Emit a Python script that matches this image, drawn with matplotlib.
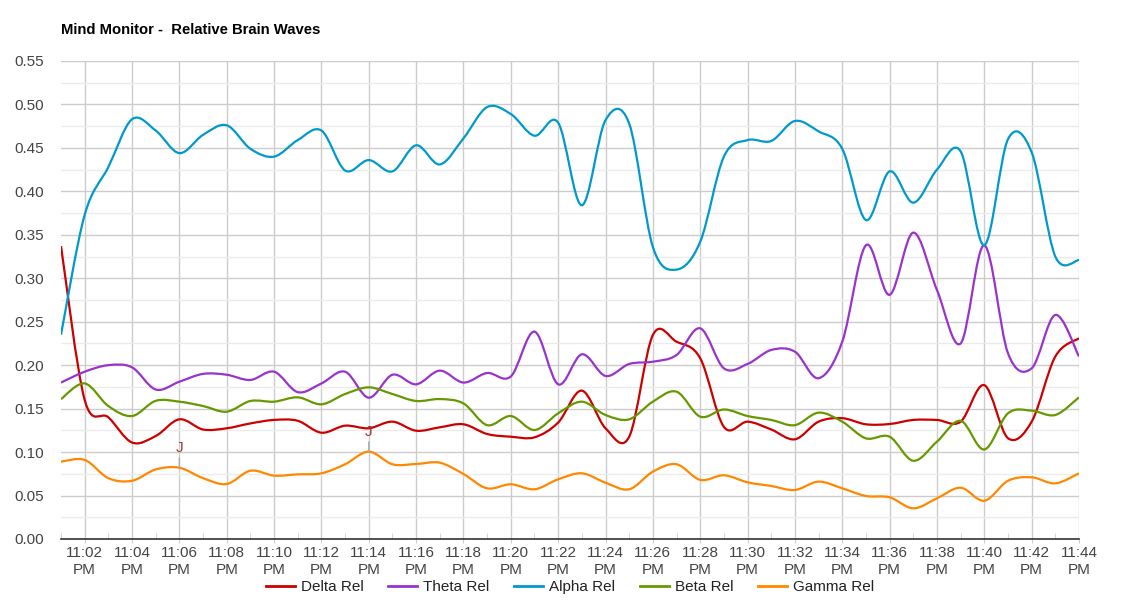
import numpy as np
import matplotlib
matplotlib.use("Agg")
import matplotlib.pyplot as plt
from matplotlib.path import Path
from matplotlib.patches import PathPatch
from matplotlib.lines import Line2D

plt.rcParams['font.family'] = ['Liberation Sans', 'DejaVu Sans']

# minutes after 11:00 PM, one sample per minute
minutes = list(range(1, 45))

delta = [0.337, 0.16, 0.14, 0.111, 0.1185, 0.1377, 0.126, 0.1274, 0.133, 0.137,
         0.136, 0.1223, 0.1304, 0.1274, 0.135, 0.1246, 0.1285, 0.132, 0.1208, 0.1177,
         0.117, 0.134, 0.1707, 0.1274, 0.1177, 0.2347, 0.227, 0.208, 0.129, 0.135,
         0.126, 0.1147, 0.135, 0.139, 0.132, 0.1323, 0.137, 0.137, 0.135, 0.177,
         0.116, 0.135, 0.21, 0.231]
theta = [0.18, 0.1925, 0.20, 0.1975, 0.172, 0.181, 0.19, 0.189, 0.183, 0.1925,
         0.169, 0.179, 0.1925, 0.1626, 0.189, 0.178, 0.1937, 0.18, 0.191, 0.187,
         0.2386, 0.178, 0.2125, 0.1876, 0.2014, 0.204, 0.2117, 0.2424, 0.1964, 0.2014,
         0.2175, 0.2155, 0.185, 0.227, 0.338, 0.281, 0.3525, 0.2865, 0.225, 0.338,
         0.2137, 0.1964, 0.2578, 0.21]
alpha = [0.235, 0.373, 0.428, 0.483, 0.47, 0.444, 0.465, 0.476, 0.449, 0.44,
         0.459, 0.47, 0.424, 0.436, 0.423, 0.453, 0.431, 0.461, 0.497, 0.489,
         0.464, 0.479, 0.384, 0.482, 0.478, 0.336, 0.31, 0.342, 0.44, 0.459,
         0.458, 0.481, 0.469, 0.449, 0.367, 0.423, 0.387, 0.425, 0.446, 0.338,
         0.46, 0.445, 0.325, 0.321]
beta = [0.161, 0.179, 0.153, 0.1415, 0.159, 0.158, 0.153, 0.1465, 0.1588, 0.158,
        0.163, 0.155, 0.1668, 0.1745, 0.1668, 0.1588, 0.161, 0.156, 0.131, 0.1415,
        0.1254, 0.1446, 0.158, 0.1427, 0.1377, 0.158, 0.1695, 0.1408, 0.149, 0.1415,
        0.137, 0.131, 0.1454, 0.135, 0.1158, 0.1177, 0.090, 0.112, 0.136, 0.103,
        0.1446, 0.1477, 0.1427, 0.163]
gamma = [0.089, 0.091, 0.070, 0.067, 0.080, 0.082, 0.070, 0.0633, 0.0786, 0.0729,
         0.0744, 0.0756, 0.086, 0.1005, 0.086, 0.0863, 0.0878, 0.0748, 0.0583, 0.063,
         0.0572, 0.0687, 0.0756, 0.0648, 0.0572, 0.0775, 0.086, 0.068, 0.0733, 0.0652,
         0.061, 0.0564, 0.066, 0.0583, 0.0495, 0.048, 0.0353, 0.0468, 0.059, 0.044,
         0.067, 0.071, 0.064, 0.0756]

series_names = ['Delta Rel', 'Theta Rel', 'Alpha Rel', 'Beta Rel', 'Gamma Rel']
series_colors = ['#cc0000', '#9933cc', '#0099cc', '#669900', '#ff8800']

# "J" annotations sit on the gamma line
annot_minutes = [6, 14]
annot_text = 'J'


def smooth_path(x, y):
    # catmull-rom through the points, drawn as cubic beziers
    x = np.asarray(x, float)
    y = np.asarray(y, float)
    px = np.concatenate([[x[0]], x, [x[-1]]])
    py = np.concatenate([[y[0]], y, [y[-1]]])
    verts = [(x[0], y[0])]
    codes = [Path.MOVETO]
    for i in range(1, len(px) - 2):
        c1 = (px[i] + (px[i + 1] - px[i - 1]) / 6, py[i] + (py[i + 1] - py[i - 1]) / 6)
        c2 = (px[i + 1] - (px[i + 2] - px[i]) / 6, py[i + 1] - (py[i + 2] - py[i]) / 6)
        verts += [c1, c2, (px[i + 1], py[i + 1])]
        codes += [Path.CURVE4] * 3
    return Path(verts, codes)


fig = plt.figure(figsize=(11.4, 6), dpi=100)
ax = fig.add_axes([61 / 1140, 1 - 539 / 600, (1079 - 61) / 1140, (539 - 61) / 600])

ax.set_xlim(1, 44)
ax.set_ylim(0, 0.55)

ax.set_yticks(np.arange(0, 0.5501, 0.05))
ax.set_yticks(np.arange(0.025, 0.55, 0.05), minor=True)
ax.set_yticklabels([f'{v:.2f}' for v in np.arange(0, 0.5501, 0.05)])

even = [m for m in minutes if m % 2 == 0]
odd = [m for m in minutes if m % 2 == 1]
ax.set_xticks(even)
ax.set_xticks(odd, minor=True)
ax.set_xticklabels([f'11:{m:02d}\nPM' for m in even])

ax.grid(True, which='major', axis='both', color='#cccccc', lw=1)
ax.grid(True, which='minor', axis='y', color='#ebebeb', lw=1)
ax.set_axisbelow(True)

for s in ['top', 'right', 'left']:
    ax.spines[s].set_visible(False)
ax.spines['bottom'].set_color('#333333')
ax.spines['bottom'].set_linewidth(1.2)

ax.tick_params(axis='y', which='both', length=0, pad=12, labelsize=11, labelcolor='#444444')
ax.tick_params(axis='x', which='major', length=3, color='#cccccc', pad=2,
               labelsize=11, labelcolor='#444444')
ax.tick_params(axis='x', which='minor', direction='in', length=4, color='#cccccc')
for lab in ax.get_xticklabels():
    lab.set_linespacing(1.25)

all_series = [delta, theta, alpha, beta, gamma]
for vals, col in zip(all_series, series_colors):
    patch = PathPatch(smooth_path(minutes, vals), fill=False, edgecolor=col,
                      lw=1.6, transform=ax.transData, clip_on=True, zorder=2)
    ax.add_patch(patch)

for m in annot_minutes:
    v = gamma[minutes.index(m)]
    ax.annotate(annot_text, xy=(m, v), xytext=(0, 9), textcoords='offset points',
                ha='center', va='bottom', fontsize=11, color='#9a3a3a', zorder=5,
                arrowprops=dict(arrowstyle='-', color='#aaaaaa', lw=1,
                                shrinkA=0, shrinkB=0))

fig.text(61 / 1140, 1 - 30 / 600, 'Mind Monitor -  Relative Brain Waves',
         fontsize=10.7, fontweight='bold', va='center', ha='left', color='#000000')

handles = [Line2D([0], [0], color=c, lw=2) for c in series_colors]
fig.legend(handles, series_names, loc='center', bbox_to_anchor=(570 / 1140, 1 - 587 / 600),
           ncol=5, frameon=False, fontsize=11, handlelength=1.9, columnspacing=1.6,
           handletextpad=0.4, labelcolor='#222222')

fig.savefig('out.png', dpi=100)
